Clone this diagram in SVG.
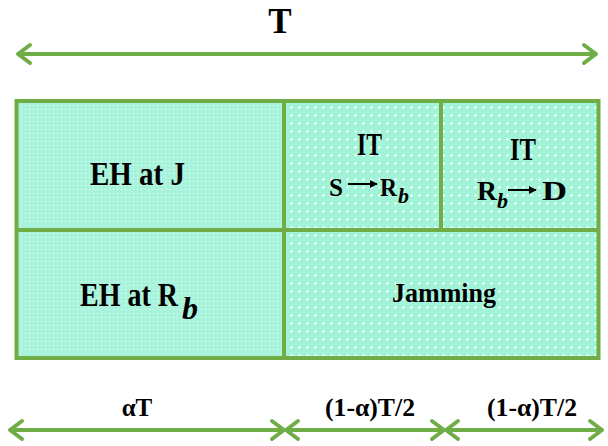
<svg xmlns="http://www.w3.org/2000/svg" width="608" height="446" viewBox="0 0 608 446">
<style>
.cell{stroke:none}
.bd{fill:none;stroke:#70AD47;stroke-width:4}
.arr{fill:none;stroke:#70AD47;stroke-width:4}
</style>
<defs>
<pattern id="pA" width="4" height="4" patternUnits="userSpaceOnUse">
<rect width="4" height="4" fill="#A8F3DC"/>
<rect x="1" y="1" width="1" height="1" fill="#E8FFF7"/>
</pattern>
<pattern id="pB" width="8" height="8" patternUnits="userSpaceOnUse">
<rect width="8" height="8" fill="#A2F4D9"/>
<rect x="3" y="2" width="1" height="3" fill="#F4FFFB"/>
<rect x="2" y="3" width="3" height="1" fill="#F4FFFB"/>
</pattern>
<marker id="chev" viewBox="-16 -12 20 24" refX="0" refY="0" markerWidth="20" markerHeight="24" markerUnits="userSpaceOnUse" orient="auto-start-reverse">
<path d="M -12 -9 L 0 0 L -12 9" fill="none" stroke="#70AD47" stroke-width="4" stroke-linecap="round" stroke-linejoin="round"/>
</marker>
<marker id="tri" viewBox="0 0 10 10" refX="9" refY="5" markerWidth="8" markerHeight="8" markerUnits="userSpaceOnUse" orient="auto">
<path d="M0 0 L10 5 L0 10 Z" fill="#000"/>
</marker>
</defs>

<text x="280" y="33" font-size="35" font-family="Liberation Serif" font-weight="bold" text-anchor="middle">T</text>

<g id="connectors">
<line class="arr" x1="18" y1="54" x2="596" y2="54" marker-start="url(#chev)" marker-end="url(#chev)"/>
<line class="arr" x1="10" y1="430" x2="284" y2="430" marker-start="url(#chev)" marker-end="url(#chev)"/>
<line class="arr" x1="286" y1="430" x2="444" y2="430" marker-start="url(#chev)" marker-end="url(#chev)"/>
<line class="arr" x1="446" y1="430" x2="602" y2="430" marker-start="url(#chev)" marker-end="url(#chev)"/>
</g>

<g id="ehj">
<rect class="cell" x="16" y="101" width="268" height="129" fill="url(#pA)"/>
<text x="90" y="185" font-size="33" font-family="Liberation Serif" font-weight="bold" textLength="95" lengthAdjust="spacingAndGlyphs">EH at J</text>
</g>
<g id="ehr">
<rect class="cell" x="16" y="230" width="268" height="128" fill="url(#pA)"/>
<text x="80" y="306" font-size="33" font-family="Liberation Serif" font-weight="bold" textLength="98" lengthAdjust="spacingAndGlyphs">EH at R</text>
<text x="182" y="319" font-size="32" font-family="Liberation Serif" font-weight="bold" font-style="italic">b</text>
</g>
<g id="it1">
<rect class="cell" x="284" y="101" width="157" height="129" fill="url(#pB)"/>
<text x="357" y="155" font-size="32" font-family="Liberation Serif" font-weight="bold" textLength="25" lengthAdjust="spacingAndGlyphs">IT</text>
<text x="329" y="196" font-size="26" font-family="Liberation Serif" font-weight="bold" textLength="14" lengthAdjust="spacingAndGlyphs">S</text>
<line x1="348" y1="184" x2="377" y2="184" stroke="#000" stroke-width="2" marker-end="url(#tri)"/>
<text x="380" y="196" font-size="26" font-family="Liberation Serif" font-weight="bold" textLength="17" lengthAdjust="spacingAndGlyphs">R</text>
<text x="398" y="203" font-size="22" font-family="Liberation Serif" font-weight="bold" font-style="italic">b</text>
</g>
<g id="it2">
<rect class="cell" x="441" y="101" width="157" height="129" fill="url(#pB)"/>
<text x="510" y="160" font-size="32" font-family="Liberation Serif" font-weight="bold" textLength="26" lengthAdjust="spacingAndGlyphs">IT</text>
<text x="477" y="200" font-size="27" font-family="Liberation Serif" font-weight="bold" textLength="20" lengthAdjust="spacingAndGlyphs">R</text>
<text x="497" y="208" font-size="22" font-family="Liberation Serif" font-weight="bold" font-style="italic">b</text>
<line x1="508" y1="190" x2="536" y2="190" stroke="#000" stroke-width="2" marker-end="url(#tri)"/>
<text x="542" y="200" font-size="27" font-family="Liberation Serif" font-weight="bold" textLength="25" lengthAdjust="spacingAndGlyphs">D</text>
</g>
<g id="jam">
<rect class="cell" x="284" y="230" width="314" height="128" fill="url(#pB)"/>
<text x="392" y="302" font-size="27" font-family="Liberation Serif" font-weight="bold" textLength="104" lengthAdjust="spacingAndGlyphs">Jamming</text>
</g>

<g id="borders">
<rect class="bd" x="16.5" y="101" width="582" height="257"/>
<line class="bd" x1="284" y1="101" x2="284" y2="358"/>
<line class="bd" x1="16" y1="230" x2="598" y2="230"/>
<line class="bd" x1="441" y1="101" x2="441" y2="230"/>
</g>

<g id="bottom-labels">
<text x="137" y="416" font-size="25" font-family="Liberation Serif" font-weight="bold" text-anchor="middle">αT</text>
<text x="370" y="416" font-size="25" font-family="Liberation Serif" font-weight="bold" text-anchor="middle" textLength="90" lengthAdjust="spacingAndGlyphs">(1-α)T/2</text>
<text x="532" y="416" font-size="25" font-family="Liberation Serif" font-weight="bold" text-anchor="middle" textLength="90" lengthAdjust="spacingAndGlyphs">(1-α)T/2</text>
</g>
</svg>
